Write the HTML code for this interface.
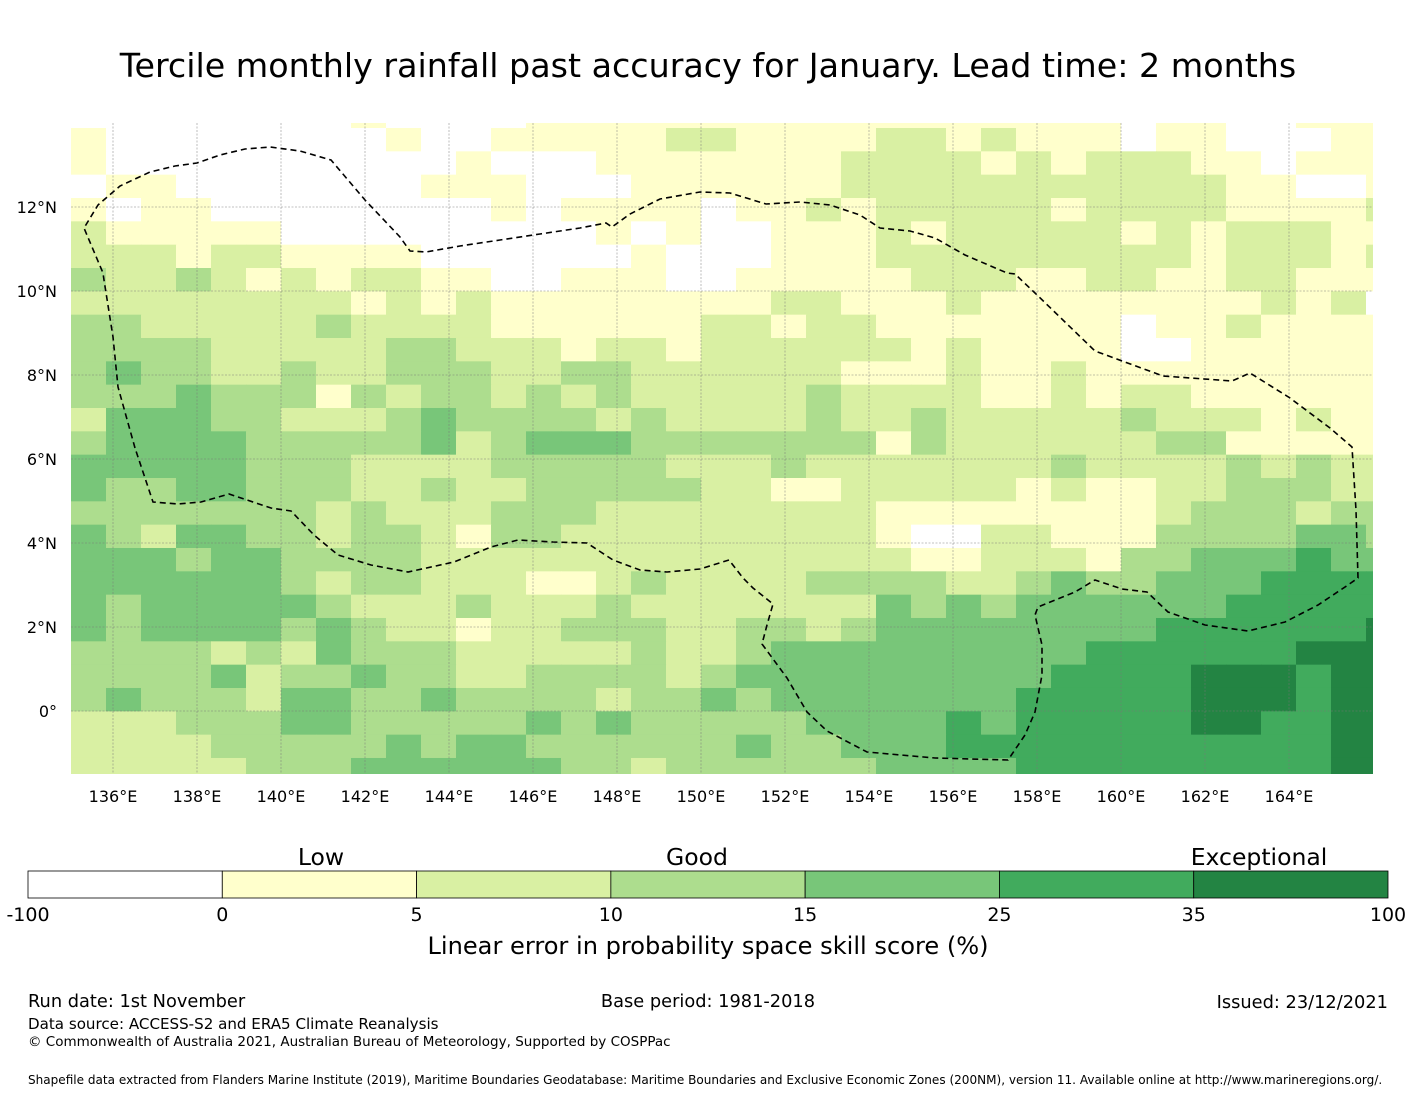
<!DOCTYPE html>
<html><head><meta charset="utf-8"><style>
body{margin:0;background:#fff;}
svg text{font-family:"DejaVu Sans","Liberation Sans",sans-serif;fill:#000;}
</style></head><body>
<svg id="chart" width="1416" height="1095" viewBox="0 0 1416 1095" xmlns="http://www.w3.org/2000/svg">
<rect width="1416" height="1095" fill="#fff"/>
<text x="708" y="77" font-size="33.3" text-anchor="middle">Tercile monthly rainfall past accuracy for January. Lead time: 2 months</text>
<defs><clipPath id="mapclip"><rect x="71" y="123" width="1302" height="651"/></clipPath></defs>
<g id="cells" clip-path="url(#mapclip)"></g>
<g id="grid"></g>
<polyline fill="none" stroke="#000" stroke-width="1.6" stroke-dasharray="6,4" clip-path="url(#mapclip)"
points="135,448 118,387 113,337 104,280 103,273 84,228 98,205 120,186 150,172 175,166 197,163 220,155 245,149 270,147 300,151 331,160 365,200 400,237 410,251 426,252 460,246 500,240 540,234 580,228 606,223 612,227 630,214 660,199 700,192 730,193 766,204 800,202 830,205 860,215 880,228 910,231 935,238 965,255 1007,273 1015,274 1035,293 1095,351 1163,376 1232,381 1250,373 1290,398 1330,428 1352,447 1356,510 1358,578 1348,585 1318,605 1285,622 1248,631 1205,625 1168,612 1147,592 1122,589 1095,580 1075,592 1038,607 1035,615 1042,645 1042,675 1035,712 1025,735 1008,760 935,758 867,752 827,731 807,712 787,678 762,644 767,625 773,604 753,588 743,578 729,560 700,569 667,572 640,570 613,560 587,543 553,542 518,540 491,547 454,562 408,572 371,565 338,555 314,535 291,511 271,508 229,494 201,502 178,504 153,502 135,448"/>
<g id="xticks"></g>
<g id="yticks"></g>

<g id="cbar"></g>
<text x="321" y="865" font-size="23.5" text-anchor="middle">Low</text>
<text x="697" y="865" font-size="23.5" text-anchor="middle">Good</text>
<text x="1259" y="865" font-size="23.5" text-anchor="middle">Exceptional</text>
<text x="708" y="954" font-size="24.1" text-anchor="middle">Linear error in probability space skill score (%)</text>

<text x="28" y="1007" font-size="17.8">Run date: 1st November</text>
<text x="708" y="1007" font-size="17.8" text-anchor="middle">Base period: 1981-2018</text>
<text x="1388" y="1008" font-size="17.8" text-anchor="end">Issued: 23/12/2021</text>
<text x="28" y="1029" font-size="15.1">Data source: ACCESS-S2 and ERA5 Climate Reanalysis</text>
<text x="28" y="1046" font-size="13.5">© Commonwealth of Australia 2021, Australian Bureau of Meteorology, Supported by COSPPac</text>
<text x="28" y="1084" font-size="12.05">Shapefile data extracted from Flanders Marine Institute (2019), Maritime Boundaries Geodatabase: Maritime Boundaries and Exclusive Economic Zones (200NM), version 11. Available online at http://www.marineregions.org/.</text>
</svg>
<script>
// category per cell (0=<0, 1=0-5, 2=5-10, 3=10-15, 4=15-25, 5=25-35, 6=35-100), rows north->south, cols west->east
const rowsData = [
"0 0 0 0 0 0 0 0 1 0 0 0 0 | 1 1 1 1 1 1 1 1 1 1 1 1 | 1 1 1 1 1 0 1 1 0 0 1 1 1",
"1 0 0 0 0 0 0 0 0 1 0 0 1 | 1 1 1 1 2 2 1 1 1 1 2 2 | 1 2 1 1 1 0 1 1 0 0 0 1 1",
"1 0 0 0 0 0 0 0 0 0 0 1 0 | 0 0 1 1 1 1 1 1 1 2 2 2 | 2 1 2 1 2 2 2 1 1 0 1 1 1",
"0 1 1 0 0 0 0 0 0 0 1 1 1 | 0 0 0 1 1 1 1 1 1 2 2 2 | 2 2 2 2 2 2 2 2 1 1 0 0 1",
"1 0 1 1 0 0 0 0 0 0 0 0 1 | 0 1 1 1 1 0 1 1 2 1 2 2 | 2 2 2 1 2 2 2 2 1 1 1 1 2",
"2 1 1 1 1 1 0 0 0 0 0 0 0 | 0 0 1 0 1 0 0 1 1 1 2 1 | 2 2 2 2 2 1 2 1 2 2 2 1 1",
"2 2 2 1 2 2 1 1 1 1 0 0 0 | 0 0 0 1 0 0 0 1 1 1 2 2 | 2 2 2 2 2 2 2 1 2 2 2 1 2",
"3 2 2 3 2 1 2 1 2 2 1 1 0 | 0 1 1 1 0 0 1 1 1 1 1 2 | 2 2 1 1 2 2 1 1 2 2 1 1 1",
"2 2 2 2 2 2 2 2 1 2 1 2 1 | 1 1 1 1 1 1 1 2 2 1 1 1 | 2 1 1 1 1 1 1 1 1 2 1 2 0",
"3 3 2 2 2 2 2 3 2 2 2 2 1 | 1 1 1 1 1 2 2 1 2 2 1 1 | 1 1 1 1 1 0 1 1 2 1 1 1 1",
"3 3 3 3 2 2 2 2 2 3 3 2 2 | 2 1 2 2 1 2 2 2 2 2 2 1 | 2 1 1 1 1 0 0 1 1 1 1 1 1",
"3 4 3 3 2 2 3 2 2 3 3 3 2 | 2 3 3 2 2 2 2 2 2 1 1 1 | 2 1 1 2 1 1 1 1 1 1 1 1 1",
"3 3 3 4 3 3 3 1 3 2 3 3 2 | 3 2 3 2 2 2 2 2 3 2 2 2 | 2 1 1 2 1 2 2 1 1 1 1 1 1",
"2 4 4 4 3 3 2 2 2 3 4 3 3 | 3 3 2 3 2 2 2 2 3 2 2 3 | 2 2 2 2 2 3 2 2 2 1 2 1 1",
"3 4 4 4 4 3 3 3 3 3 4 2 3 | 4 4 4 3 3 3 3 3 3 3 1 3 | 2 2 2 2 2 2 3 3 1 1 1 1 1",
"4 4 4 4 4 3 3 3 2 2 2 2 3 | 3 3 3 3 2 2 2 3 2 2 2 2 | 2 2 2 3 2 2 2 2 3 2 3 2 2",
"4 3 3 4 4 3 3 3 2 2 3 2 2 | 3 3 3 3 3 2 2 1 1 2 2 2 | 2 2 1 2 1 1 2 2 3 3 3 2 2",
"3 3 3 3 3 3 3 2 3 2 2 2 3 | 3 3 2 2 2 2 2 2 2 2 1 1 | 1 1 1 1 1 1 2 3 3 3 2 3 3",
"4 3 2 4 4 3 3 2 3 3 2 1 3 | 3 2 2 2 2 2 2 2 2 2 1 0 | 0 2 2 1 1 1 3 3 3 3 4 4 3",
"4 4 4 3 4 4 3 3 3 3 2 2 2 | 2 2 2 2 2 2 2 2 2 2 2 1 | 1 2 2 2 1 3 3 4 4 4 5 4 4",
"4 4 4 4 4 4 3 2 3 3 2 2 2 | 1 1 2 3 2 2 2 2 3 3 3 3 | 2 2 3 4 3 3 4 4 4 5 5 5 5",
"4 3 4 4 4 4 4 3 2 2 2 3 2 | 2 2 3 2 2 2 2 2 2 2 4 3 | 4 3 4 4 4 4 4 4 5 5 5 5 5",
"4 3 4 4 4 4 3 4 3 2 2 1 2 | 2 3 3 3 2 2 3 3 2 3 4 4 | 4 4 4 4 4 4 5 5 5 5 5 5 6",
"3 3 3 3 2 3 2 4 3 3 3 2 2 | 2 2 2 3 2 2 3 4 4 4 4 4 | 4 4 4 4 5 5 5 5 5 5 6 6 6",
"3 3 3 3 4 2 3 3 4 3 3 2 2 | 3 3 3 3 2 3 4 4 4 4 4 4 | 4 4 4 5 5 5 5 6 6 6 5 6 6",
"3 4 3 3 3 2 4 4 3 3 4 3 3 | 3 3 2 3 3 4 3 4 4 4 4 4 | 4 4 5 5 5 5 5 6 6 6 5 6 6",
"2 2 2 3 3 3 4 4 3 3 3 3 3 | 4 3 4 3 3 3 3 3 4 4 4 4 | 5 4 5 5 5 5 5 6 6 5 5 6 6",
"2 2 2 2 3 3 3 3 3 4 3 4 4 | 3 3 3 3 3 3 4 3 3 4 4 4 | 5 5 5 5 5 5 5 5 5 5 5 6 6",
"2 2 2 2 2 3 3 3 4 4 4 4 4 | 4 3 3 2 3 3 3 3 3 3 4 4 | 4 4 5 5 5 5 5 5 5 5 5 6 6"
];
const colors = ["#ffffff","#ffffcc","#d9f0a3","#addd8e","#78c679","#41ab5d","#238443"];
const boundLabels = ["-100","0","5","10","15","25","35","100"];
const lonTicks = [136,138,140,142,144,146,148,150,152,154,156,158,160,162,164];
const latTicks = [0,2,4,6,8,10,12];

const NS="http://www.w3.org/2000/svg";
const LON0=135, LAT0=14, PPD=42, MX=71, MY=123;
function xOf(lon){return MX+(lon-LON0)*PPD;}
function yOf(lat){return MY+(LAT0-lat)*PPD;}
const dLon=35/42, dLat=23.333/42, firstTopLat=14-(128-123)/42+dLat;

const cellsG=document.getElementById('cells');
rowsData.forEach((row,r)=>{
  const vals=row.replace(/\|/g,' ').trim().split(/\s+/).map(Number);
  const latTop=firstTopLat-r*dLat;
  vals.forEach((v,c)=>{
    const lonL=LON0+c*dLon;
    const rect=document.createElementNS(NS,'rect');
    
    
    rect.setAttribute('x',xOf(lonL));
    rect.setAttribute('y',yOf(latTop));
    rect.setAttribute('width',dLon*PPD+0.5);
    rect.setAttribute('height',dLat*PPD+0.5);
    rect.setAttribute('fill',colors[v]);
    cellsG.appendChild(rect);
  });
});

const gridG=document.getElementById('grid');
const xt=document.getElementById('xticks'), yt=document.getElementById('yticks');
lonTicks.forEach(l=>{
  const ln=document.createElementNS(NS,'line');
  
  
  ln.setAttribute('x1',xOf(l));ln.setAttribute('x2',xOf(l));
  ln.setAttribute('y1',123);ln.setAttribute('y2',774);
  ln.setAttribute('stroke','#777');ln.setAttribute('stroke-width','0.8');ln.setAttribute('stroke-dasharray','2,1.5');ln.setAttribute('opacity','0.6');
  gridG.appendChild(ln);
  const t=document.createElementNS(NS,'text');
  
  
  t.setAttribute('x',xOf(l));t.setAttribute('y',802);t.setAttribute('font-size','16');t.setAttribute('text-anchor','middle');
  t.textContent=l+'°E';
  xt.appendChild(t);
});
latTicks.forEach(l=>{
  const ln=document.createElementNS(NS,'line');
  
  
  ln.setAttribute('x1',71);ln.setAttribute('x2',1373);
  ln.setAttribute('y1',yOf(l));ln.setAttribute('y2',yOf(l));
  ln.setAttribute('stroke','#777');ln.setAttribute('stroke-width','0.8');ln.setAttribute('stroke-dasharray','2,1.5');ln.setAttribute('opacity','0.6');
  gridG.appendChild(ln);
  const t=document.createElementNS(NS,'text');
  
  
  t.setAttribute('x',57);t.setAttribute('y',yOf(l)+6);t.setAttribute('font-size','16');t.setAttribute('text-anchor','end');
  t.textContent=l===0?'0°':l+'°N';
  yt.appendChild(t);
});

const cb=document.getElementById('cbar');
const cbX=28, cbW=1360, cbY=871, cbH=27, seg=cbW/colors.length;
colors.forEach((col,i)=>{
  const r=document.createElementNS(NS,'rect');
  
  
  r.setAttribute('x',cbX+i*seg);r.setAttribute('y',cbY);r.setAttribute('width',seg);r.setAttribute('height',cbH);
  r.setAttribute('fill',col);r.setAttribute('stroke','#000');r.setAttribute('stroke-width','0.8');
  cb.appendChild(r);
});
boundLabels.forEach((b,i)=>{
  const t=document.createElementNS(NS,'text');
  
  
  t.setAttribute('x',cbX+i*seg);t.setAttribute('y',921);t.setAttribute('font-size','19');t.setAttribute('text-anchor','middle');
  t.textContent=b;
  cb.appendChild(t);
});
</script>
</body></html>
